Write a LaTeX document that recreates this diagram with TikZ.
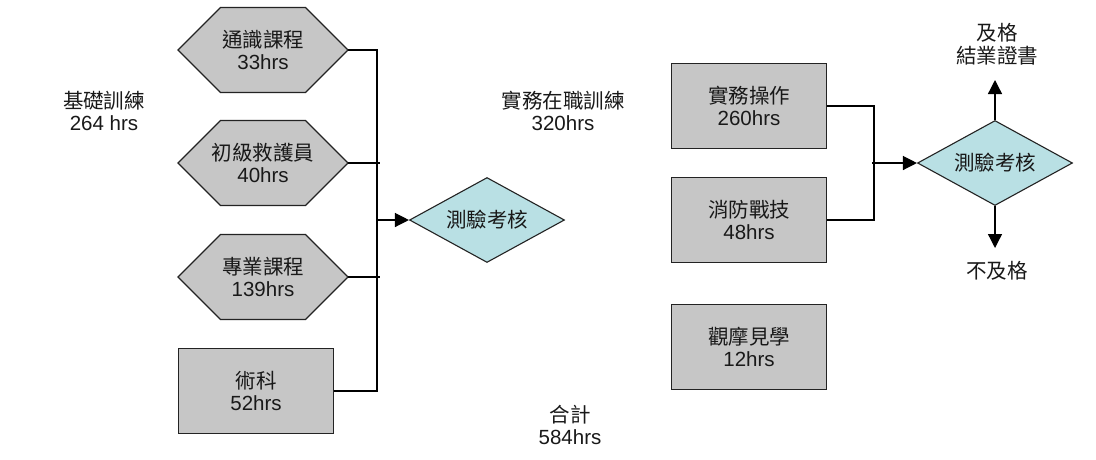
\documentclass[tikz,border=0pt]{standalone}
\usepackage{fontspec}
\setmainfont{Liberation Sans}
\newfontfamily\cjk{Noto Sans CJK TC}
\usetikzlibrary{shapes.geometric,arrows.meta}
\definecolor{boxgray}{RGB}{198,198,198}
\definecolor{diafill}{RGB}{185,224,228}
\definecolor{edgecol}{RGB}{35,35,35}
\definecolor{txtcol}{RGB}{25,25,25}
\tikzset{
  lbl/.style={align=center, text=txtcol, font=\fontsize{20.5}{22.5}\selectfont, inner sep=0pt},
  hexshape/.style={fill=boxgray, draw=edgecol, line width=1.1pt, line join=miter},
  hextext/.style={lbl, minimum width=170pt, minimum height=85pt},
  rectbox/.style={lbl, rectangle, fill=boxgray, draw=edgecol, line width=1.6pt, minimum width=155pt, minimum height=85pt},
  diabox/.style={lbl, diamond, aspect=1.8, fill=diafill, draw=edgecol, line width=1.1pt, minimum width=155pt, minimum height=85pt},
  conn/.style={draw=black, line width=1.3pt},
  arr/.style={conn, -{Triangle[length=14pt,width=14pt]}}
}
\newcommand{\hexbox}[4]{%
  \filldraw[hexshape] (#2-85,#3) -- (#2-42.5,#3-42.5) -- (#2+42.5,#3-42.5) -- (#2+85,#3) -- (#2+42.5,#3+42.5) -- (#2-42.5,#3+42.5) -- cycle;
  \node[hextext] (#1) at (#2,#3) {#4};}
\begin{document}
\begin{tikzpicture}[x={(1pt,0pt)}, y={(0pt,-1pt)}]
\useasboundingbox (0,0) rectangle (1096,459);
\fill[white] (0,0) rectangle (1096,459);

% left column
\hexbox{h1}{263}{50}{{\cjk 通識課程}\\33hrs}
\hexbox{h2}{263}{163}{{\cjk 初級救護員}\\40hrs}
\hexbox{h3}{263}{277}{{\cjk 專業課程}\\139hrs}
\node[rectbox] (r1) at (256,391) {{\cjk 術科}\\52hrs};

\node[diabox] (d1) at (487,220) {\cjk 測驗考核};

\coordinate (busA) at (377,0);
\coordinate (busB) at (380,0);
\draw[conn] (h1.east) -| (busA |- r1.east) -- (r1.east);
\draw[conn] (h2.east) -- (busB |- h2.east);
\draw[conn] (h3.east) -- (busB |- h3.east);
\draw[arr] (busA |- d1.west) -- (d1.west);

% free labels
\node[lbl] (t1) at (104,111) {{\cjk 基礎訓練}\\264 hrs};
\node[lbl] (t2) at (563,111) {{\cjk 實務在職訓練}\\320hrs};
\node[lbl] (t3) at (570,425) {{\cjk 合計}\\584hrs};

% right column
\node[rectbox] (r4) at (749,106) {{\cjk 實務操作}\\260hrs};
\node[rectbox] (r5) at (749,220) {{\cjk 消防戰技}\\48hrs};
\node[rectbox] (r6) at (749,347) {{\cjk 觀摩見學}\\12hrs};

\node[diabox] (d2) at (995,163) {\cjk 測驗考核};

\coordinate (busC) at (874,0);
\coordinate (busD) at (872,0);
\draw[conn] (r4.east) -| (busC |- r5.east) -- (r5.east);
\draw[arr] (busD |- d2.west) -- (d2.west);

\node[lbl] (pass) at (997,44) {{\cjk 及格}\\{\cjk 結業證書}};
\node[lbl] (fail) at (997,271) {\cjk 不及格};
\coordinate (upTip) at (995,80);
\coordinate (downTip) at (995,248);
\draw[arr] (d2.north) -- (upTip);
\draw[arr] (d2.south) -- (downTip);
\end{tikzpicture}
\end{document}
